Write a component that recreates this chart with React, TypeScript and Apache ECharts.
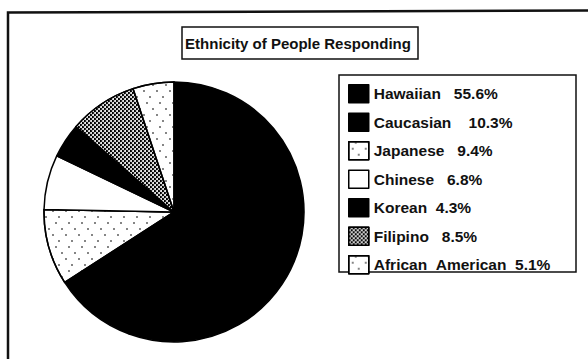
import React, { useEffect, useRef } from "react";
import * as echarts from "echarts";

const categories = ["Hawaiian", "Caucasian", "Japanese", "Chinese", "Korean", "Filipino", "African American"];
const values = [55.6, 10.3, 9.4, 6.8, 4.3, 8.5, 5.1];
const legendLabels = [
  "Hawaiian   55.6%",
  "Caucasian    10.3%",
  "Japanese   9.4%",
  "Chinese   6.8%",
  "Korean  4.3%",
  "Filipino   8.5%",
  "African  American  5.1%",
];
const titleText = "Ethnicity of People Responding";

const FONT = "'Liberation Sans', Arial, Helvetica, sans-serif";
const NBSP = "\u00a0";

const speckle = {
  symbol: "rect",
  symbolSize: 0.8,
  color: "#333",
  backgroundColor: "#fff",
  dashArrayX: [[1.2, 11], [0, 6, 1.2, 5], [0, 3, 1.2, 8], [0, 9, 1.2, 2]],
  dashArrayY: [1.2, 3.5],
};
const dots = {
  symbol: "circle",
  symbolSize: 1,
  color: "#fff",
  backgroundColor: "#000",
  dashArrayX: [[2, 2], [0, 2, 2, 0]],
  dashArrayY: [2, 0],
};

const styles: any[] = [
  { color: "#000" },
  { color: "#000" },
  { color: "#fff", decal: speckle },
  { color: "#fff" },
  { color: "#000" },
  { color: "#000", decal: dots },
  { color: "#fff", decal: speckle },
];

export default function App() {
  const ref = useRef<HTMLDivElement>(null);
  useEffect(() => {
    if (!ref.current) return;
    const chart = echarts.init(ref.current, undefined, { renderer: "svg" });
    const labelMap: Record<string, string> = {};
    categories.forEach((c, i) => (labelMap[c] = legendLabels[i].replace(/ /g, NBSP)));
    chart.setOption({
      animation: false,
      backgroundColor: "#fff",
      legend: {
        orient: "vertical",
        left: 348,
        top: 84,
        itemWidth: 20,
        itemHeight: 18,
        itemGap: 9,
        padding: 0,
        icon: "rect",
        selectedMode: false,
        itemStyle: { borderColor: "#000", borderWidth: 1.5 },
        textStyle: { fontFamily: FONT, fontWeight: "bold", fontSize: 15.5, color: "#111" },
        formatter: (name: string) => labelMap[name] || name,
        data: categories,
      },
      graphic: [
        {
          type: "polyline",
          shape: { points: [[8, 380], [8, 12.5], [600, 10.5]] },
          style: { stroke: "#111", lineWidth: 2.5, fill: null },
          silent: true,
        },
        {
          type: "rect",
          shape: { x: 182, y: 27, width: 236, height: 32 },
          style: { stroke: "#111", lineWidth: 1.5, fill: "#fff" },
          silent: true,
        },
        {
          type: "text",
          x: 298,
          y: 43,
          style: {
            text: titleText,
            fontFamily: FONT,
            fontWeight: "bold",
            fontSize: 15,
            fill: "#111",
            align: "center",
            verticalAlign: "middle",
          },
          silent: true,
        },
        {
          type: "rect",
          shape: { x: 339, y: 75, width: 237, height: 197 },
          style: { stroke: "#111", lineWidth: 1.5, fill: null },
          silent: true,
        },
      ],
      series: [
        {
          type: "pie",
          center: [174, 212],
          radius: 130,
          startAngle: 90,
          clockwise: true,
          silent: true,
          label: { show: false },
          labelLine: { show: false },
          emphasis: { disabled: true },
          itemStyle: { borderColor: "#000", borderWidth: 1.5 },
          data: categories.map((c, i) => ({
            name: c,
            value: values[i],
            itemStyle: styles[i],
          })),
        },
      ],
    });
    return () => chart.dispose();
  }, []);
  return (
    <div
      ref={ref}
      style={{ position: "fixed", left: 0, top: 0, width: 588, height: 359 }}
    />
  );
}
